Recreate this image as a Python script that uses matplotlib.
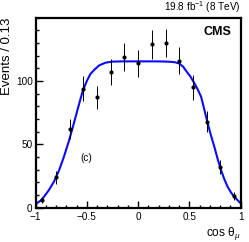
import numpy as np
import matplotlib
matplotlib.use('Agg')
import matplotlib.pyplot as plt

plt.rcParams['font.family'] = ['Liberation Sans', 'DejaVu Sans']
plt.rcParams['mathtext.fontset'] = 'custom'
plt.rcParams['mathtext.rm'] = 'Liberation Sans'
plt.rcParams['mathtext.it'] = 'Liberation Sans:italic'

# Datos (bins de ancho 2/15)
bin_centers = [-0.933, -0.8, -0.667, -0.533, -0.4, -0.267, -0.133, 0.0,
               0.133, 0.267, 0.4, 0.533, 0.667, 0.8, 0.933]
events = [6, 24, 62, 94, 87, 107, 119, 114, 129, 130, 116, 95, 68, 32, 9]
errors = [2.5, 5.0, 7.9, 9.7, 9.3, 10.3, 10.9, 10.7, 11.4, 11.4, 10.8, 9.7, 8.2, 5.7, 3.0]

# Curva del ajuste (puntos leidos)
fit_x = [-1.0, -0.95, -0.917, -0.87, -0.82, -0.77, -0.723, -0.675, -0.626, -0.578,
         -0.542, -0.5, -0.465, -0.429, -0.38, -0.316, -0.25, -0.15, 0.0, 0.15,
         0.25, 0.31, 0.36, 0.40, 0.44, 0.473, 0.51, 0.549, 0.58, 0.614, 0.645,
         0.678, 0.71, 0.743, 0.775, 0.808, 0.84, 0.872, 0.905, 0.937, 0.97, 1.0]
fit_y = [2.8, 5.5, 8.6, 13.8, 20.5, 29.5, 40.2, 52.5, 66.6, 81.0,
         91.5, 100.0, 105.5, 108.7, 112.3, 114.5, 115.3, 115.5, 115.5, 115.5,
         115.4, 115.2, 114.8, 113.8, 111.2, 107.4, 103.5, 98.2, 93.5, 87.6, 77.5,
         66.6, 57.0, 48.1, 38.5, 29.7, 22.5, 16.5, 12.0, 8.6, 5.8, 3.4]

fig = plt.figure(figsize=(2.49, 2.42), dpi=100)
ax = fig.add_axes([0.1426, 0.1421, 0.8241, 0.7848])

ax.plot(fit_x, fit_y, color='#0a0aff', lw=1.5, zorder=2)
ax.errorbar(bin_centers, events, yerr=errors, fmt='o', color='black', ms=2.0,
            elinewidth=0.7, capsize=0, zorder=3)

ax.set_xlim(-1, 1)
ax.set_ylim(0, 150)
ax.set_xticks([-1, -0.5, 0, 0.5, 1])
ax.set_xticklabels(['\u22121', '\u22120.5', '0', '0.5', '1'])
ax.set_xticks(np.arange(-1, 1.01, 0.1), minor=True)
ax.set_yticks([0, 50, 100])
ax.set_yticks(np.arange(0, 151, 10), minor=True)

ax.tick_params(which='both', direction='in', top=False, right=False, labelsize=7.2, width=1.0)
ax.tick_params(which='major', length=5)
ax.tick_params(axis='x', which='major', pad=3.5)
ax.tick_params(axis='y', which='major', pad=2)
ax.tick_params(which='minor', length=2.5)
for s in ax.spines.values():
    s.set_linewidth(1.6)

ax.set_ylabel('Events / 0.13', fontsize=9.5, loc='top', labelpad=2)
ax.set_xlabel('cos \u03b8$_{\\mu}$', fontsize=8.5, loc='right', labelpad=2)

ax.text(1.0, 1.015, r'19.8 fb$^{-1}$ (8 TeV)', transform=ax.transAxes,
        ha='right', va='bottom', fontsize=7.2)
ax.text(0.955, 0.925, 'CMS', transform=ax.transAxes, ha='right', va='center',
        fontsize=9, fontweight='bold')
ax.text(-0.51, 39, '(c)', ha='center', va='center', fontsize=7.2)

fig.savefig('out.png', dpi=100)
